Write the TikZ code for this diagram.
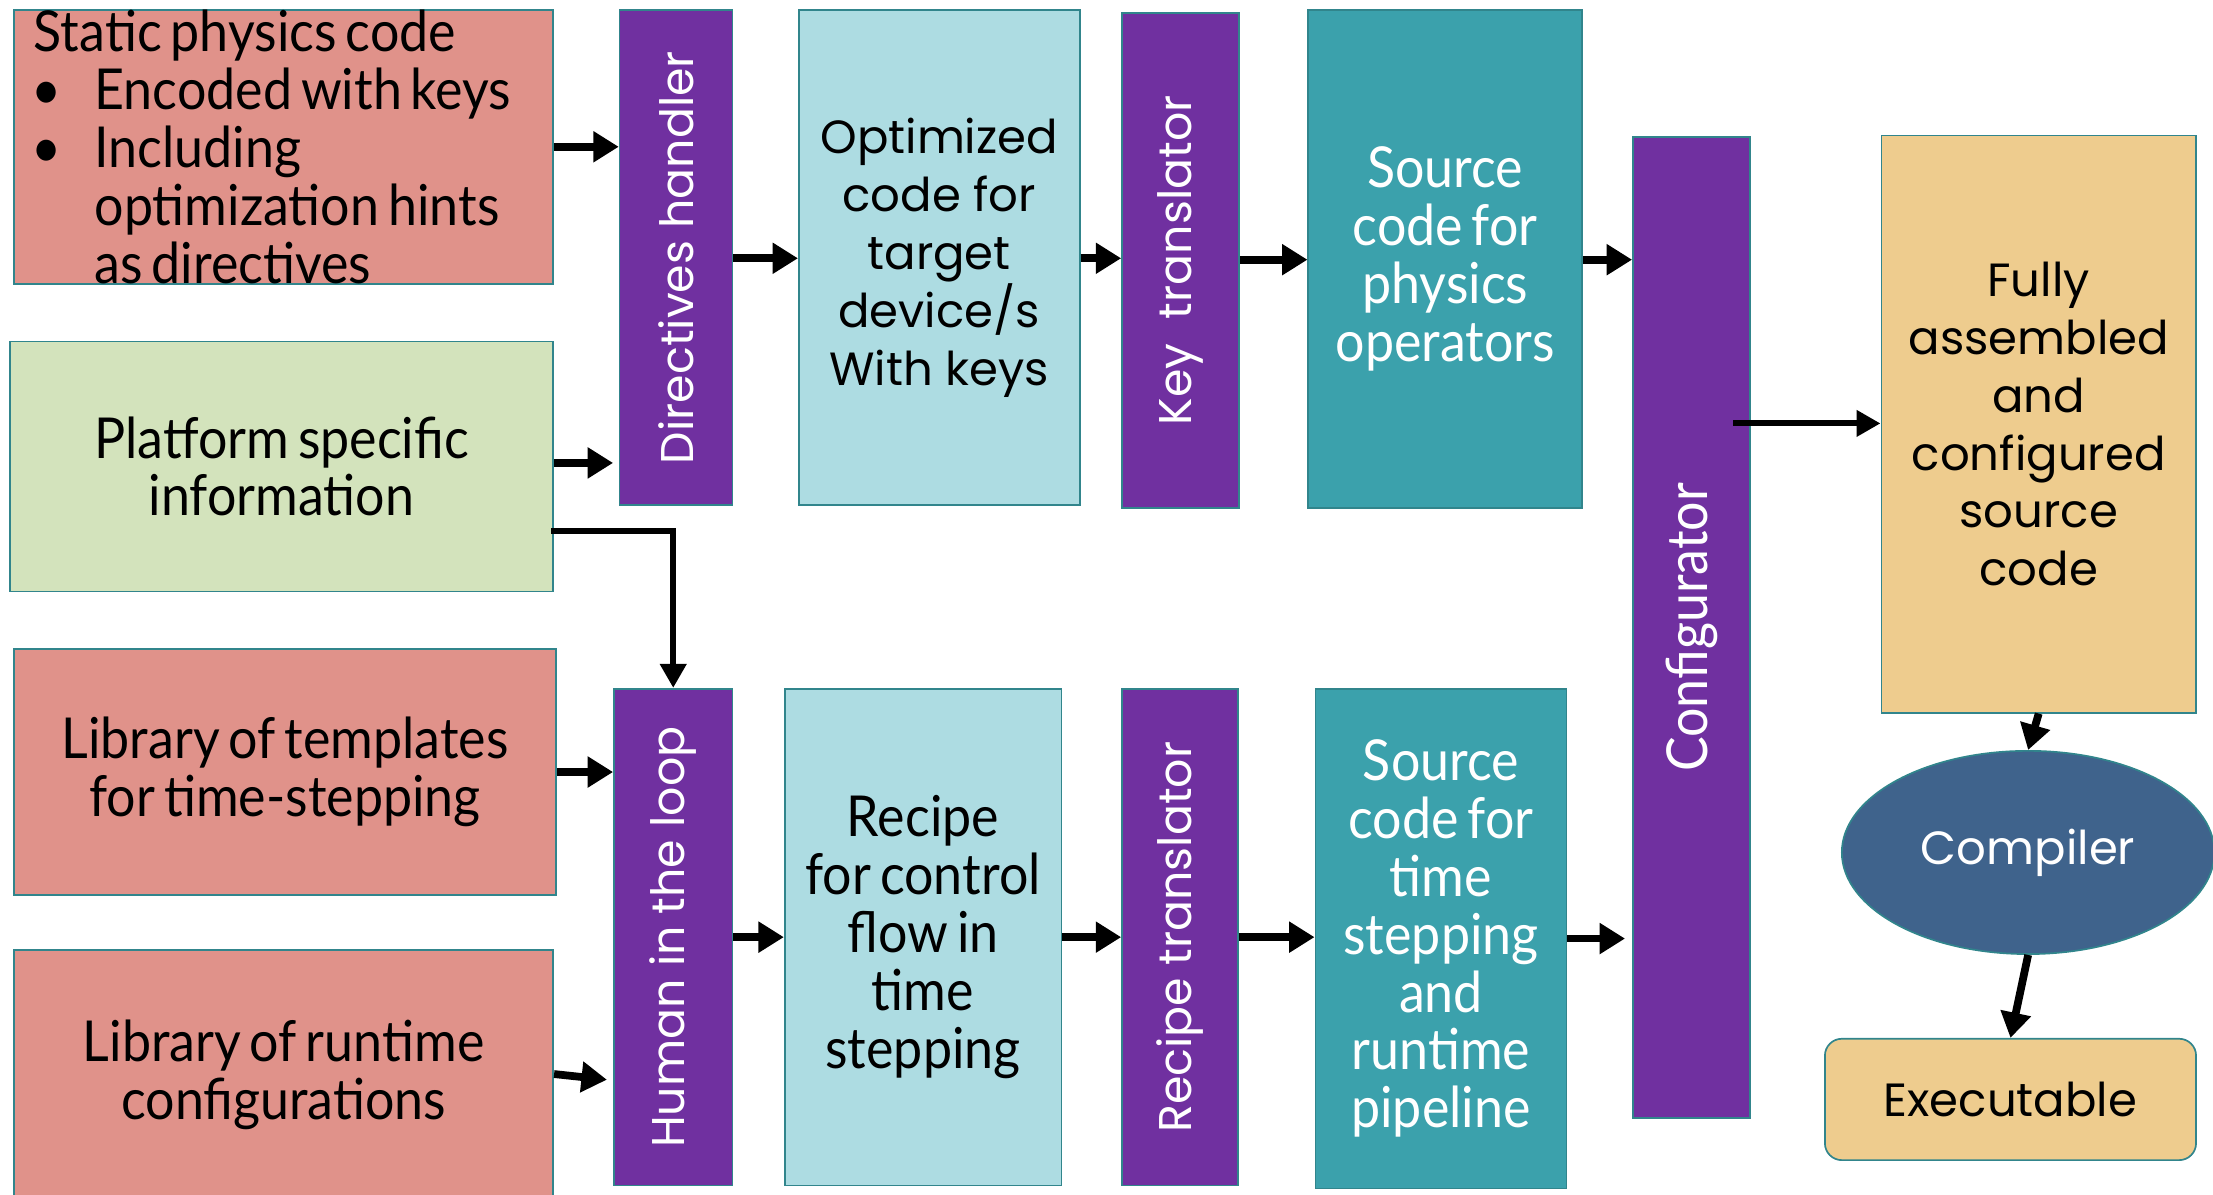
\documentclass[tikz,border=0pt]{standalone}
\usepackage{fontspec}
\newfontfamily\cgf{Poppins}
\newfontfamily\twf{Lato}[FakeStretch=0.92]
\newcommand\twsel{\twf\fontsize{40}{41}\selectfont\spaceskip=6.3pt\relax}
\usetikzlibrary{arrows.meta,shapes.geometric,calc}
\definecolor{salmon}{HTML}{E0928A}
\definecolor{paleg}{HTML}{D3E3BC}
\definecolor{purp}{HTML}{7030A0}
\definecolor{lcyan}{HTML}{ADDCE2}
\definecolor{teal2}{HTML}{3BA1AC}
\definecolor{tan2}{HTML}{EECC8E}
\definecolor{compc}{HTML}{3F638C}
\definecolor{bordc}{HTML}{31858C}
\tikzset{
  box/.style={draw=bordc, line width=1.2pt, inner sep=0pt, align=center},
  cgt/.style={font=\cgf\fontsize{33}{41}\selectfont},
  twt/.style={font=\twsel},
  vt/.style={font=\cgf\fontsize{32.5}{38}\selectfont, text=white},
  arr/.style={line width=5.5pt, -{Triangle[length=18pt,width=21pt]}},
  tarr/.style={line width=4.2pt, -{Triangle[length=17pt,width=18pt]}},
}
\begin{document}
\begin{tikzpicture}[x=1pt,y=-1pt]
\useasboundingbox (0,0) rectangle (1568,846);
% left column
\node[box, fill=salmon, twt, minimum width=382pt, minimum height=194pt, text width=354pt, align=left] (static) at (201,104) {\spaceskip=6.3pt\relax Static physics code\\
\hspace*{-2pt}\makebox[45pt][l]{\textbullet}Encoded with keys\\
\hspace*{-2pt}\makebox[45pt][l]{\textbullet}Including\\
\hspace*{43pt}optimization hints\\
\hspace*{43pt}as directives};
\node[box, fill=paleg, twt, minimum width=385pt, minimum height=177pt] (plat) at (199.5,330.5) {Platform specific\\information};
\node[box, fill=salmon, twt, minimum width=384pt, minimum height=174pt] (tmpl) at (202,547) {Library of templates\\for time-stepping};
\node[box, fill=salmon, twt, minimum width=382pt, minimum height=177pt] (rt) at (201,761.5) {Library of runtime\\configurations};
% top row
\node[box, fill=purp, vt, minimum width=80pt, minimum height=351pt] (dir) at (479,182.5) {\rotatebox{90}{Directives handler}};
\node[box, fill=lcyan, cgt, minimum width=199pt, minimum height=351pt] (opt) at (665.5,182.5) {Optimized\\code for\\target\\device/s\\With keys};
\node[box, fill=purp, vt, minimum width=83pt, minimum height=351pt] (key) at (836.5,184.5) {\rotatebox{90}{Key\ \ translator}};
\node[box, fill=teal2, twt, text=white, minimum width=194pt, minimum height=353pt] (src1) at (1024,183.5) {Source\\code for\\physics\\operators};
% bottom row
\node[box, fill=purp, vt, minimum width=84pt, minimum height=352pt] (human) at (477,664) {\rotatebox{90}{Human in the loop}};
\node[box, fill=lcyan, twt, minimum width=196pt, minimum height=352pt] (recipe) at (654,664) {Recipe\\for control\\flow in\\time\\stepping};
\node[box, fill=purp, vt, minimum width=82pt, minimum height=352pt] (rtr) at (836,664) {\rotatebox{90}{Recipe translator}};
\node[box, fill=teal2, twt, text=white, minimum width=178pt, minimum height=354pt] (src2) at (1021,665) {Source\\code for\\time\\stepping\\and\\runtime\\pipeline};
% right part
\node[box, fill=purp, twt, text=white, minimum width=83pt, minimum height=695pt] (conf) at (1198.5,444.5) {\rotatebox{90}{Configurator}};
\node[box, fill=tan2, cgt, minimum width=223pt, minimum height=409pt] (full) at (1444.5,300.5) {Fully\\assembled\\and\\configured\\source\\code};
\node[ellipse, draw=bordc, line width=1.2pt, fill=compc, cgt, text=white, inner sep=0pt, minimum width=264pt, minimum height=144pt] (comp) at (1437,604) {Compiler};
\node[box, rounded corners=12pt, fill=tan2, cgt, minimum width=263pt, minimum height=86pt] (exe) at (1424.5,779) {Executable};
% connectors
\draw[arr] (static.east |- 0,104) -- (dir.west |- 0,104);
\draw[arr] (plat.east |- 0,328) -- ([xshift=-4pt]dir.west |- 0,328);
\draw[tarr] ([xshift=-2pt]plat.east |- 0,376) -| (human.north);
\draw[arr] (dir.east |- 0,183) -- (opt.west |- 0,183);
\draw[arr] (opt.east |- 0,183) -- (key.west |- 0,183);
\draw[arr] (key.east |- 0,184) -- (src1.west |- 0,184);
\draw[arr] (src1.east |- 0,184) -- (conf.west |- 0,184);
\coordinate (cfout) at (1228,300);
\draw[tarr] (cfout) -- (full.west |- cfout);
\draw[arr] (full.south) -- (comp.north);
\draw[arr] (comp.south) -- (exe.north);
\draw[arr] (tmpl.east |- 0,547) -- (human.west |- 0,547);
\coordinate (rtin) at (430,765);
\draw[arr] (rt.east |- 0,761) -- (rtin);
\draw[arr] (human.east |- 0,664) -- (recipe.west |- 0,664);
\draw[arr] (recipe.east |- 0,664) -- (rtr.west |- 0,664);
\draw[arr] (rtr.east |- 0,664) -- (src2.west |- 0,664);
\draw[arr] (src2.east |- 0,665) -- ([xshift=-5pt]conf.west |- 0,665);
\end{tikzpicture}
\end{document}
